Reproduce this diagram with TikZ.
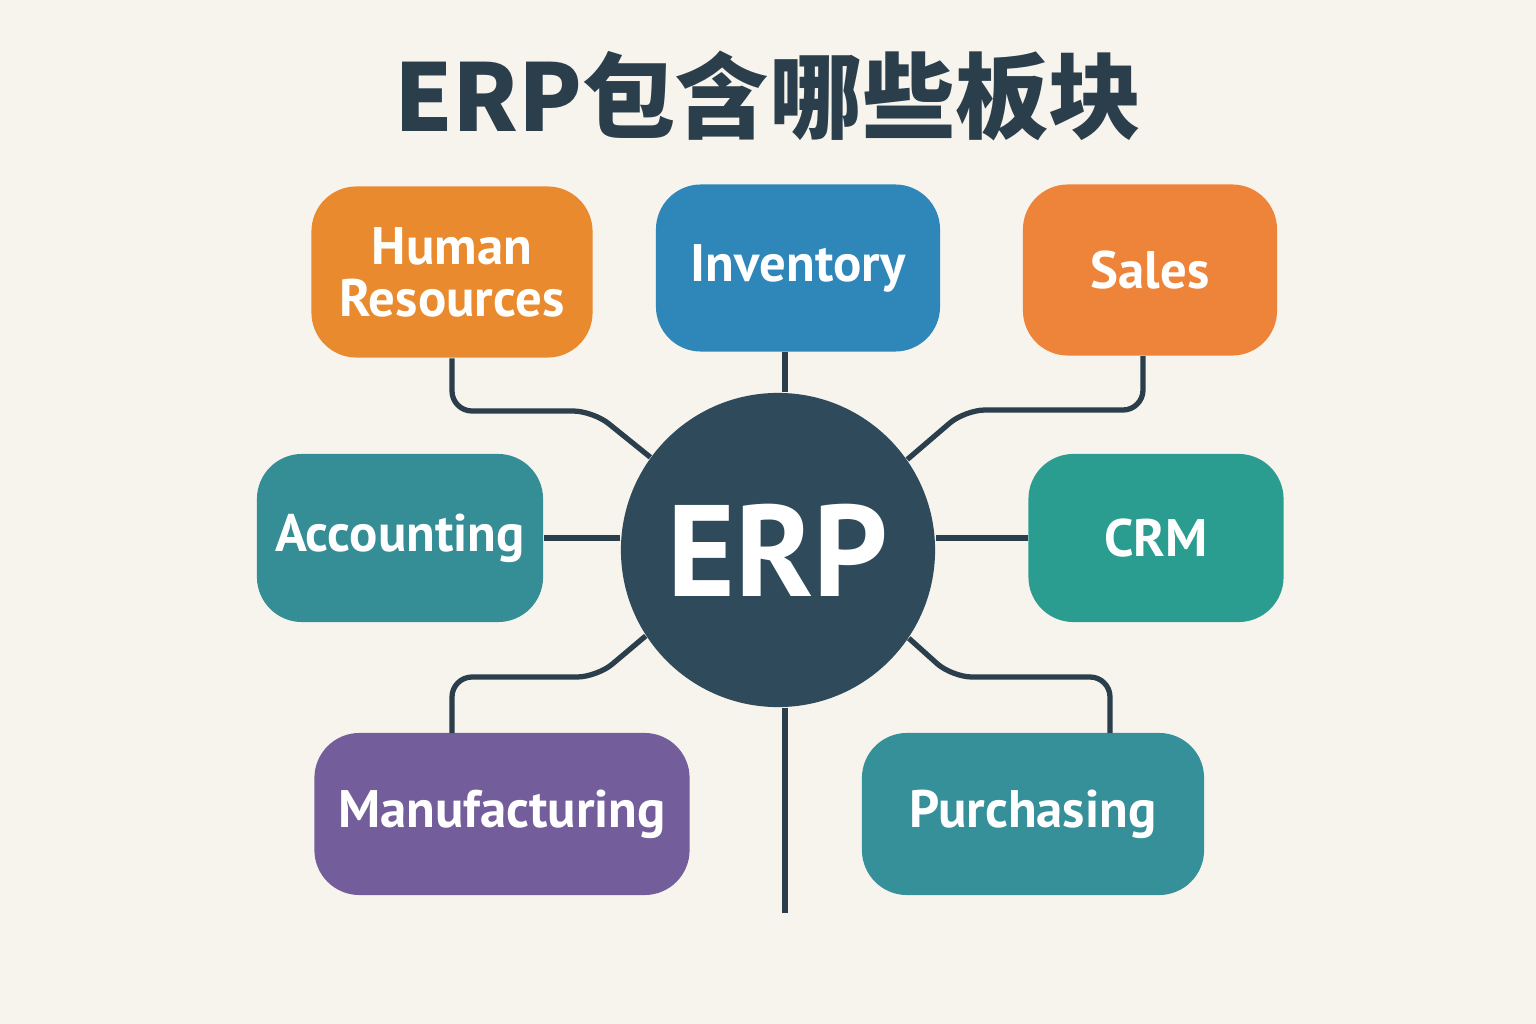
\documentclass[tikz,border=0pt]{standalone}
\usepackage{fontspec}
\setmainfont{PT Sans}
\newfontfamily\cjk{Noto Sans CJK SC}
\usepackage{tikz}

\definecolor{bgcol}{HTML}{F7F4EE}
\definecolor{ink}{HTML}{2B3E4B}
\definecolor{hubcol}{HTML}{2F4A5A}
\definecolor{hrcol}{HTML}{E98A2F}
\definecolor{invcol}{HTML}{2F86B9}
\definecolor{salescol}{HTML}{EE843A}
\definecolor{acctcol}{HTML}{358D96}
\definecolor{crmcol}{HTML}{2A9D90}
\definecolor{mfgcol}{HTML}{735E9B}
\definecolor{purchcol}{HTML}{36909A}

\tikzset{
  module/.style={rounded corners=0.45cm, text=white, align=center, inner sep=0pt,
    font=\fontsize{15}{14.8}\selectfont\bfseries},
  link/.style={draw=ink, line width=1.5pt, rounded corners=0.2cm}
}

\begin{document}
\begin{tikzpicture}[x=0.01cm, y=-0.01cm]
    \fill[bgcol] (0,0) rectangle (1536,1024);
    \useasboundingbox (0,0) rectangle (1536,1024);

    \node (title) at (768,96) {\cjk\bfseries\fontsize{26.5}{30}\selectfont\color{ink}ERP包含哪些板块};

    \node[circle, fill=hubcol, minimum size=3.14cm, text=white,
      font=\fontsize{37}{40}\selectfont\bfseries] (erp) at (778,550) {ERP};

    \node[module, fill=hrcol, minimum width=2.81cm, minimum height=1.71cm] (hr) at (452,272) {Human\\Resources};
    \node[module, fill=invcol, minimum width=2.84cm, minimum height=1.67cm] (inv) at (798,268) {Inventory};
    \node[module, fill=salescol, minimum width=2.54cm, minimum height=1.71cm] (sales) at (1150,270) {Sales};
    \node[module, fill=acctcol, minimum width=2.86cm, minimum height=1.68cm] (acct) at (400,538) {Accounting};
    \node[module, fill=crmcol, minimum width=2.55cm, minimum height=1.68cm] (crm) at (1156,538) {CRM};
    \node[module, fill=mfgcol, minimum width=3.75cm, minimum height=1.62cm] (mfg) at (502,814) {Manufacturing};
    \node[module, fill=purchcol, minimum width=3.42cm, minimum height=1.62cm] (purch) at (1033,814) {Purchasing};

    \coordinate (invdrop) at (785,352);
    \coordinate (salesdrop) at (1143,356);
    \coordinate (mfgtop) at (452,733);
    \coordinate (purchtop) at (1110,733);
    \coordinate (tail) at (785,913);

    % connectors
    \draw[link] (hr.south) -- (452,411) -- (593,411) -- (erp.144);
    \draw[link] (invdrop) -- (invdrop |- erp.north);
    \draw[link] (salesdrop) -- (1143,410) -- (965,410) -- (erp.35);
    \draw[link] (acct.east) -- (acct.east -| erp.west);
    \draw[link] (crm.west) -- (crm.west -| erp.east);
    \draw[link] (erp.213) -- (597,677) -- (452,677) -- (mfgtop);
    \draw[link] (erp.-34) -- (952,677) -- (1110,677) -- (purchtop);
    \draw[link] (tail |- erp.south) -- (tail);
  \end{tikzpicture}
\end{document}
